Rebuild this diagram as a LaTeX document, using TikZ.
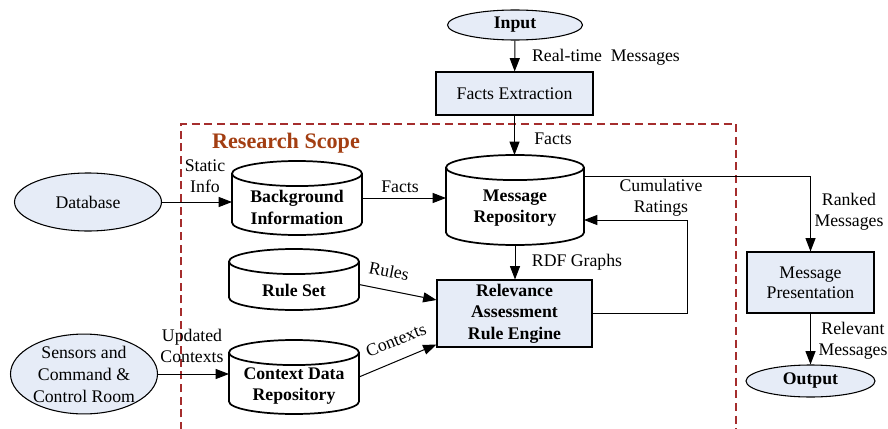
\documentclass[tikz,border=0pt]{standalone}
\usepackage{fontspec}
\setmainfont{Liberation Serif}
\usetikzlibrary{shapes.geometric,arrows.meta,calc}
\definecolor{boxfill}{RGB}{230,236,247}
\definecolor{scopeline}{RGB}{165,45,45}
\definecolor{scopetext}{RGB}{163,62,18}
\newcommand\mysize{\fontsize{13.3}{16}\selectfont}
\begin{document}
\begin{tikzpicture}[x=0.75pt,y=0.75pt,
  txt/.style={font=\mysize, inner sep=1pt},
  box/.style={draw, fill=boxfill, line width=0.8pt, font=\mysize, inner sep=2pt, align=center},
  ell/.style={ellipse, draw, fill=boxfill, line width=0.8pt, font=\mysize, inner sep=0pt, align=center},
  cylnode/.style={inner sep=0pt, outer sep=0pt},
  cylline/.style={line width=1.3pt},
  conn/.style={-{Triangle[length=10pt,width=7.5pt]}, line width=0.75pt},
  scopebox/.style={draw=scopeline, line width=1pt, dash pattern=on 6pt off 3.5pt}]
\useasboundingbox (0,0) rectangle (888,-428);

% research scope frame
\draw[scopebox] (181,-430) -- (181,-124) -- (736,-124) -- (736,-430);
\node[font=\fontsize{16.6}{19}\selectfont\bfseries, text=scopetext] (scope) at (286,-143) {Research Scope};

% nodes
\node[ell, minimum width=101.25pt, minimum height=22.5pt, font=\mysize\bfseries] (in) at (515,-25) {Input};
\node[box, minimum width=117.75pt, minimum height=32.25pt] (fe) at (514.5,-93.5) {Facts Extraction};
\node[ell, minimum width=110.25pt, minimum height=43.5pt] (db) at (88,-202) {Database};
\node[ell, minimum width=110.25pt, minimum height=58.5pt, font=\fontsize{13.3}{16.5}\selectfont] (sen) at (84,-374) {Sensors and\\Command \&\\Control Room};
\node[box, minimum width=116.25pt, minimum height=50.25pt, font=\mysize\bfseries] (rel) at (514.5,-313.5) {Relevance\\Assessment\\Rule Engine};
\node[box, minimum width=95.25pt, minimum height=45.75pt, font=\fontsize{13.3}{15}\selectfont] (mp) at (810.5,-282.5) {Message\\Presentation};
\node[ell, minimum width=96.75pt, minimum height=24pt, font=\mysize\bfseries] (out) at (810.5,-381) {Output};

\node[cylnode, minimum width=97.5pt, minimum height=55.5pt,
  label={[font=\mysize\bfseries, align=center, yshift=-7pt]center:Background\\Information}] (bg) at (297,-198) {};
\node[cylnode, minimum width=103.5pt, minimum height=67.5pt,
  label={[font=\mysize\bfseries, align=center, yshift=-6pt]center:Message\\Repository}] (mr) at (515,-200) {};
\node[cylnode, minimum width=97.5pt, minimum height=45.75pt,
  label={[font=\mysize\bfseries, align=center, yshift=-8pt]center:Rule Set}] (rs) at (294,-279.5) {};
\node[cylnode, minimum width=97.5pt, minimum height=55.5pt,
  label={[font=\mysize\bfseries, align=center, yshift=-7pt]center:Context Data\\Repository}] (cd) at (294,-377) {};

\foreach \c/\w in {bg/48.75, mr/51.75, rs/48.75, cd/48.75}{
  \draw[cylline] ([yshift=-9.4pt]\c.north west) -- ([yshift=9.4pt]\c.south west)
    arc[start angle=180, end angle=360, x radius=\w pt, y radius=9.4pt]
    -- ([yshift=-9.4pt]\c.north east)
    arc[start angle=0, end angle=180, x radius=\w pt, y radius=9.4pt]
    arc[start angle=180, end angle=360, x radius=\w pt, y radius=9.4pt];
}

% connectors
\draw[conn] (in) -- (fe);
\draw[conn] (fe.south) -- (fe.south |- mr.north);
\draw[conn] (db.east) -- (db.east -| bg.west);
\draw[conn] (bg.east) -- (bg.east -| mr.west);
\draw[conn] (mr.south) -- (mr.south |- rel.north);
\draw[conn] ($(rs.east)+(0,-5)$) -- ($(rel.west)+(0,13.5)$);
\draw[conn] (cd.east) -- ($(rel.south west)+(0,3)$);
\draw[conn] (sen.east) -- (sen.east -| cd.west);
\coordinate (cr) at (687,-220);
\draw[conn] (rel.east) -| (cr) -- (cr -| mr.east);
\draw[conn] ($(mr.north east)+(0,-21)$) -| (mp.north);
\draw[conn] (mp.south) -- (out.north);

% connector labels
\node[txt] (l1) at (606,-57) {Real-time~ Messages};
\node[txt] (l2) at (553,-139) {Facts};
\node[txt, align=center] (l3) at (205,-176) {Static\\Info};
\node[txt] (l4) at (400,-187) {Facts};
\node[txt, align=center] (l5) at (661,-198) {Cumulative\\Ratings};
\node[txt, align=center] (l6) at (849,-212) {Ranked\\Messages};
\node[txt] (l7) at (577,-262) {RDF Graphs};
\node[txt, rotate=-11] (l8) at (389,-271) {Rules};
\node[txt, rotate=22] (l9) at (396,-340) {Contexts};
\node[txt, align=center] (l10) at (192,-346) {Updated\\Contexts};
\node[txt, align=center] (l11) at (853,-341) {Relevant\\Messages};
\end{tikzpicture}
\end{document}
